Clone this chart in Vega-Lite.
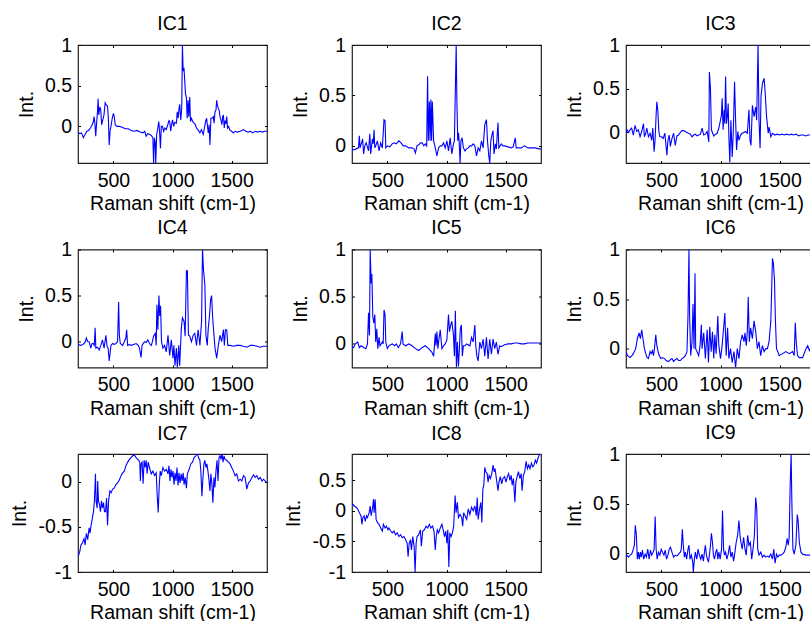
{
"$schema": "https://vega.github.io/schema/vega-lite/v6.json",
"background": "white",
"padding": {"left": 9, "top": 12, "right": 0, "bottom": 0},
"columns": 3,
"spacing": {"row": 86.5, "column": 85},
"bounds": "flush",
"datasets": {
"ic1": [{"x":200,"y":-0.07},{"x":215,"y":-0.09},{"x":230,"y":-0.08},{"x":245,"y":-0.14},{"x":260,"y":-0.1},{"x":275,"y":-0.06},{"x":290,"y":-0.05},{"x":305,"y":-0.02},{"x":320,"y":0.02},{"x":330,"y":0.06},{"x":336,"y":0.12},{"x":343,"y":0.04},{"x":350,"y":-0.12},{"x":358,"y":0.05},{"x":365,"y":0.18},{"x":370,"y":0.34},{"x":376,"y":0.14},{"x":385,"y":0.24},{"x":393,"y":0.2},{"x":400,"y":0.02},{"x":410,"y":0.08},{"x":420,"y":0.14},{"x":430,"y":0.29},{"x":440,"y":0.26},{"x":450,"y":0.25},{"x":457,"y":0.1},{"x":464,"y":-0.23},{"x":472,"y":-0.05},{"x":479,"y":0.0},{"x":490,"y":0.1},{"x":500,"y":0.16},{"x":507,"y":0.12},{"x":515,"y":0.02},{"x":530,"y":0.0},{"x":550,"y":0.0},{"x":575,"y":-0.01},{"x":600,"y":-0.03},{"x":625,"y":-0.03},{"x":650,"y":-0.05},{"x":675,"y":-0.06},{"x":700,"y":-0.05},{"x":725,"y":-0.07},{"x":750,"y":-0.08},{"x":765,"y":-0.06},{"x":777,"y":-0.12},{"x":790,"y":-0.09},{"x":810,"y":-0.1},{"x":825,"y":-0.12},{"x":834,"y":-0.14},{"x":840,"y":-0.46},{"x":847,"y":-0.14},{"x":854,"y":-0.2},{"x":858,"y":-0.46},{"x":866,"y":-0.1},{"x":876,"y":-0.02},{"x":884,"y":0.06},{"x":890,"y":-0.05},{"x":898,"y":-0.27},{"x":905,"y":0.0},{"x":915,"y":0.0},{"x":925,"y":-0.06},{"x":935,"y":-0.02},{"x":947,"y":-0.04},{"x":960,"y":0.02},{"x":970,"y":0.07},{"x":976,"y":0.06},{"x":985,"y":-0.06},{"x":992,"y":0.02},{"x":1000,"y":0.08},{"x":1010,"y":0.0},{"x":1020,"y":0.05},{"x":1033,"y":0.04},{"x":1040,"y":0.18},{"x":1048,"y":0.1},{"x":1055,"y":0.22},{"x":1061,"y":0.27},{"x":1070,"y":0.08},{"x":1078,"y":0.22},{"x":1084,"y":1.0},{"x":1090,"y":0.68},{"x":1097,"y":0.72},{"x":1104,"y":0.55},{"x":1110,"y":0.4},{"x":1118,"y":0.35},{"x":1124,"y":0.1},{"x":1132,"y":0.32},{"x":1138,"y":0.12},{"x":1146,"y":0.36},{"x":1152,"y":0.06},{"x":1160,"y":0.1},{"x":1175,"y":0.05},{"x":1190,"y":0.03},{"x":1203,"y":-0.02},{"x":1215,"y":-0.04},{"x":1232,"y":-0.08},{"x":1245,"y":-0.04},{"x":1260,"y":-0.1},{"x":1270,"y":-0.02},{"x":1280,"y":0.06},{"x":1289,"y":0.1},{"x":1296,"y":0.0},{"x":1303,"y":-0.08},{"x":1310,"y":0.02},{"x":1317,"y":-0.23},{"x":1325,"y":0.1},{"x":1335,"y":0.1},{"x":1345,"y":0.12},{"x":1352,"y":0.04},{"x":1360,"y":0.18},{"x":1368,"y":0.2},{"x":1374,"y":0.32},{"x":1380,"y":0.26},{"x":1388,"y":0.22},{"x":1395,"y":0.2},{"x":1402,"y":0.12},{"x":1410,"y":0.08},{"x":1418,"y":0.02},{"x":1425,"y":0.12},{"x":1431,"y":0.14},{"x":1438,"y":-0.02},{"x":1445,"y":0.07},{"x":1452,"y":0.03},{"x":1459,"y":0.12},{"x":1466,"y":-0.02},{"x":1475,"y":0.0},{"x":1487,"y":-0.05},{"x":1500,"y":-0.06},{"x":1516,"y":-0.08},{"x":1530,"y":-0.06},{"x":1550,"y":-0.07},{"x":1570,"y":-0.06},{"x":1590,"y":-0.05},{"x":1601,"y":-0.04},{"x":1620,"y":-0.06},{"x":1640,"y":-0.07},{"x":1660,"y":-0.06},{"x":1680,"y":-0.08},{"x":1700,"y":-0.06},{"x":1720,"y":-0.07},{"x":1740,"y":-0.06},{"x":1760,"y":-0.07},{"x":1780,"y":-0.06},{"x":1800,"y":-0.06}],
"ic2": [{"x":200,"y":-0.03},{"x":215,"y":-0.04},{"x":235,"y":-0.03},{"x":255,"y":-0.02},{"x":262,"y":0.1},{"x":268,"y":-0.02},{"x":278,"y":0.02},{"x":290,"y":0.07},{"x":298,"y":-0.08},{"x":308,"y":0.0},{"x":320,"y":0.03},{"x":340,"y":-0.05},{"x":351,"y":0.12},{"x":358,"y":-0.08},{"x":366,"y":0.0},{"x":373,"y":0.07},{"x":380,"y":0.02},{"x":387,"y":0.16},{"x":393,"y":-0.02},{"x":401,"y":0.0},{"x":415,"y":0.05},{"x":429,"y":-0.05},{"x":443,"y":0.03},{"x":457,"y":-0.02},{"x":471,"y":0.26},{"x":480,"y":0.25},{"x":486,"y":-0.02},{"x":500,"y":0.0},{"x":520,"y":-0.01},{"x":540,"y":0.02},{"x":555,"y":0.03},{"x":575,"y":0.02},{"x":597,"y":0.05},{"x":615,"y":0.03},{"x":635,"y":0.0},{"x":653,"y":0.0},{"x":680,"y":-0.02},{"x":709,"y":-0.02},{"x":725,"y":-0.03},{"x":737,"y":-0.07},{"x":750,"y":0.0},{"x":765,"y":0.01},{"x":780,"y":0.03},{"x":793,"y":0.03},{"x":808,"y":0.0},{"x":821,"y":0.02},{"x":832,"y":0.0},{"x":840,"y":0.69},{"x":846,"y":0.05},{"x":855,"y":0.44},{"x":861,"y":0.05},{"x":868,"y":0.46},{"x":874,"y":0.05},{"x":880,"y":0.44},{"x":891,"y":0.05},{"x":905,"y":-0.02},{"x":919,"y":-0.1},{"x":933,"y":-0.02},{"x":947,"y":0.0},{"x":961,"y":0.0},{"x":975,"y":0.03},{"x":989,"y":-0.02},{"x":1003,"y":0.05},{"x":1017,"y":-0.05},{"x":1031,"y":0.08},{"x":1045,"y":-0.08},{"x":1059,"y":0.02},{"x":1067,"y":0.05},{"x":1073,"y":0.44},{"x":1082,"y":1.0},{"x":1088,"y":0.44},{"x":1095,"y":0.05},{"x":1102,"y":0.13},{"x":1108,"y":0.02},{"x":1115,"y":-0.17},{"x":1122,"y":0.05},{"x":1132,"y":0.08},{"x":1143,"y":-0.02},{"x":1157,"y":-0.05},{"x":1170,"y":-0.03},{"x":1184,"y":-0.02},{"x":1198,"y":0.0},{"x":1212,"y":0.0},{"x":1226,"y":0.02},{"x":1240,"y":0.0},{"x":1254,"y":-0.1},{"x":1268,"y":-0.02},{"x":1282,"y":-0.05},{"x":1296,"y":0.05},{"x":1310,"y":-0.02},{"x":1324,"y":0.21},{"x":1338,"y":0.26},{"x":1347,"y":0.05},{"x":1358,"y":-0.1},{"x":1366,"y":-0.17},{"x":1375,"y":0.05},{"x":1385,"y":0.11},{"x":1394,"y":0.15},{"x":1402,"y":-0.08},{"x":1414,"y":0.02},{"x":1422,"y":-0.03},{"x":1436,"y":0.23},{"x":1443,"y":-0.02},{"x":1464,"y":0.02},{"x":1478,"y":0.0},{"x":1492,"y":0.0},{"x":1520,"y":-0.01},{"x":1548,"y":-0.02},{"x":1565,"y":-0.01},{"x":1582,"y":0.08},{"x":1590,"y":-0.02},{"x":1610,"y":-0.02},{"x":1632,"y":-0.02},{"x":1660,"y":0.0},{"x":1690,"y":-0.02},{"x":1716,"y":-0.02},{"x":1750,"y":-0.02},{"x":1780,"y":-0.03},{"x":1800,"y":-0.03}],
"ic3": [{"x":200,"y":-0.01},{"x":208,"y":0.03},{"x":222,"y":0.0},{"x":234,"y":0.03},{"x":248,"y":0.05},{"x":262,"y":-0.03},{"x":277,"y":0.08},{"x":291,"y":0.01},{"x":305,"y":0.03},{"x":319,"y":-0.05},{"x":333,"y":0.01},{"x":348,"y":0.1},{"x":356,"y":-0.05},{"x":367,"y":-0.01},{"x":376,"y":0.05},{"x":390,"y":-0.05},{"x":404,"y":-0.01},{"x":418,"y":-0.09},{"x":427,"y":0.05},{"x":438,"y":-0.22},{"x":446,"y":-0.09},{"x":455,"y":0.2},{"x":461,"y":0.35},{"x":469,"y":0.26},{"x":478,"y":0.01},{"x":487,"y":-0.05},{"x":501,"y":-0.05},{"x":515,"y":-0.07},{"x":529,"y":-0.01},{"x":546,"y":-0.26},{"x":555,"y":-0.09},{"x":566,"y":-0.03},{"x":575,"y":-0.16},{"x":589,"y":-0.07},{"x":603,"y":-0.01},{"x":617,"y":-0.15},{"x":631,"y":-0.04},{"x":645,"y":-0.03},{"x":660,"y":0.0},{"x":674,"y":0.02},{"x":688,"y":0.02},{"x":702,"y":0.01},{"x":716,"y":0.0},{"x":730,"y":-0.01},{"x":745,"y":-0.02},{"x":759,"y":-0.05},{"x":773,"y":-0.03},{"x":787,"y":-0.02},{"x":801,"y":-0.04},{"x":816,"y":-0.03},{"x":830,"y":-0.02},{"x":844,"y":0.05},{"x":858,"y":-0.03},{"x":872,"y":-0.02},{"x":887,"y":0.01},{"x":901,"y":-0.11},{"x":906,"y":0.69},{"x":915,"y":0.5},{"x":923,"y":0.03},{"x":943,"y":-0.04},{"x":958,"y":-0.02},{"x":972,"y":-0.01},{"x":986,"y":0.05},{"x":1000,"y":0.14},{"x":1008,"y":0.2},{"x":1014,"y":0.39},{"x":1022,"y":0.03},{"x":1031,"y":0.26},{"x":1037,"y":0.1},{"x":1043,"y":0.64},{"x":1051,"y":0.1},{"x":1059,"y":0.2},{"x":1065,"y":0.33},{"x":1071,"y":-0.05},{"x":1079,"y":-0.34},{"x":1088,"y":0.14},{"x":1099,"y":-0.28},{"x":1108,"y":-0.01},{"x":1119,"y":0.58},{"x":1127,"y":0.18},{"x":1136,"y":-0.2},{"x":1147,"y":0.01},{"x":1156,"y":-0.09},{"x":1170,"y":-0.03},{"x":1184,"y":-0.01},{"x":1198,"y":0.0},{"x":1213,"y":0.01},{"x":1227,"y":-0.01},{"x":1241,"y":0.26},{"x":1250,"y":-0.09},{"x":1258,"y":-0.15},{"x":1270,"y":0.31},{"x":1284,"y":0.18},{"x":1298,"y":0.29},{"x":1306,"y":0.14},{"x":1318,"y":1.0},{"x":1326,"y":0.14},{"x":1335,"y":-0.18},{"x":1343,"y":0.41},{"x":1355,"y":0.56},{"x":1369,"y":0.62},{"x":1377,"y":0.48},{"x":1390,"y":0.18},{"x":1404,"y":-0.01},{"x":1412,"y":0.06},{"x":1426,"y":-0.05},{"x":1440,"y":-0.01},{"x":1460,"y":-0.03},{"x":1480,"y":-0.02},{"x":1500,"y":-0.03},{"x":1520,"y":-0.02},{"x":1540,"y":-0.03},{"x":1560,"y":-0.02},{"x":1580,"y":-0.03},{"x":1600,"y":-0.02},{"x":1620,"y":-0.03},{"x":1640,"y":-0.02},{"x":1660,"y":-0.04},{"x":1680,"y":-0.03},{"x":1700,"y":-0.03},{"x":1720,"y":-0.04},{"x":1740,"y":-0.03},{"x":1760,"y":-0.03},{"x":1780,"y":-0.04},{"x":1800,"y":-0.04}],
"ic4": [{"x":200,"y":-0.03},{"x":223,"y":-0.04},{"x":240,"y":-0.03},{"x":251,"y":-0.02},{"x":262,"y":0.0},{"x":271,"y":0.04},{"x":282,"y":0.0},{"x":294,"y":0.0},{"x":308,"y":-0.07},{"x":318,"y":-0.02},{"x":328,"y":-0.02},{"x":338,"y":-0.04},{"x":345,"y":0.15},{"x":351,"y":-0.07},{"x":365,"y":-0.06},{"x":379,"y":-0.09},{"x":393,"y":-0.04},{"x":407,"y":0.02},{"x":421,"y":-0.07},{"x":436,"y":0.07},{"x":446,"y":-0.05},{"x":455,"y":-0.07},{"x":464,"y":-0.21},{"x":479,"y":-0.04},{"x":493,"y":-0.02},{"x":507,"y":-0.03},{"x":521,"y":-0.02},{"x":535,"y":0.0},{"x":544,"y":0.43},{"x":550,"y":0.07},{"x":558,"y":-0.02},{"x":578,"y":-0.04},{"x":592,"y":0.0},{"x":605,"y":0.04},{"x":612,"y":0.13},{"x":620,"y":-0.04},{"x":635,"y":-0.03},{"x":649,"y":-0.04},{"x":670,"y":-0.03},{"x":692,"y":-0.02},{"x":710,"y":-0.04},{"x":720,"y":-0.07},{"x":734,"y":-0.17},{"x":742,"y":-0.04},{"x":763,"y":0.0},{"x":777,"y":-0.01},{"x":791,"y":0.02},{"x":805,"y":-0.02},{"x":820,"y":-0.04},{"x":830,"y":0.0},{"x":839,"y":0.06},{"x":854,"y":0.09},{"x":862,"y":-0.04},{"x":868,"y":0.4},{"x":876,"y":0.13},{"x":885,"y":0.5},{"x":892,"y":0.28},{"x":899,"y":0.39},{"x":907,"y":0.0},{"x":919,"y":-0.07},{"x":933,"y":-0.04},{"x":947,"y":-0.11},{"x":962,"y":0.07},{"x":976,"y":-0.15},{"x":990,"y":0.02},{"x":1004,"y":-0.18},{"x":1012,"y":-0.04},{"x":1021,"y":-0.26},{"x":1033,"y":-0.07},{"x":1041,"y":-0.28},{"x":1053,"y":-0.04},{"x":1061,"y":-0.26},{"x":1075,"y":0.15},{"x":1084,"y":0.26},{"x":1098,"y":0.22},{"x":1107,"y":0.06},{"x":1118,"y":0.77},{"x":1126,"y":0.77},{"x":1135,"y":0.07},{"x":1146,"y":0.06},{"x":1161,"y":0.0},{"x":1175,"y":0.07},{"x":1189,"y":0.09},{"x":1203,"y":-0.04},{"x":1217,"y":0.13},{"x":1232,"y":-0.04},{"x":1246,"y":0.22},{"x":1254,"y":1.0},{"x":1263,"y":0.77},{"x":1274,"y":0.62},{"x":1283,"y":0.07},{"x":1294,"y":-0.04},{"x":1303,"y":0.15},{"x":1312,"y":0.26},{"x":1323,"y":0.46},{"x":1331,"y":0.5},{"x":1340,"y":0.26},{"x":1351,"y":0.07},{"x":1360,"y":-0.07},{"x":1374,"y":-0.18},{"x":1388,"y":-0.04},{"x":1402,"y":0.07},{"x":1416,"y":0.0},{"x":1431,"y":0.13},{"x":1439,"y":-0.04},{"x":1448,"y":0.13},{"x":1459,"y":0.13},{"x":1468,"y":-0.04},{"x":1487,"y":-0.04},{"x":1516,"y":-0.05},{"x":1545,"y":-0.04},{"x":1573,"y":-0.04},{"x":1600,"y":-0.05},{"x":1630,"y":-0.06},{"x":1660,"y":-0.04},{"x":1686,"y":-0.04},{"x":1715,"y":-0.05},{"x":1743,"y":-0.06},{"x":1770,"y":-0.05},{"x":1800,"y":-0.05}],
"ic5": [{"x":200,"y":-0.03},{"x":214,"y":-0.04},{"x":228,"y":0.0},{"x":248,"y":0.02},{"x":262,"y":-0.04},{"x":276,"y":-0.02},{"x":290,"y":-0.03},{"x":303,"y":-0.04},{"x":317,"y":-0.05},{"x":331,"y":0.0},{"x":340,"y":0.33},{"x":348,"y":0.09},{"x":354,"y":1.0},{"x":362,"y":0.64},{"x":368,"y":0.74},{"x":376,"y":0.29},{"x":385,"y":0.22},{"x":393,"y":0.31},{"x":401,"y":0.02},{"x":410,"y":0.16},{"x":418,"y":-0.05},{"x":429,"y":0.07},{"x":437,"y":-0.02},{"x":457,"y":0.02},{"x":464,"y":0.0},{"x":471,"y":0.36},{"x":480,"y":0.31},{"x":486,"y":0.02},{"x":499,"y":-0.05},{"x":513,"y":-0.02},{"x":527,"y":-0.01},{"x":541,"y":0.0},{"x":561,"y":-0.02},{"x":575,"y":0.0},{"x":592,"y":-0.04},{"x":611,"y":0.0},{"x":625,"y":0.13},{"x":632,"y":0.0},{"x":653,"y":-0.02},{"x":681,"y":0.0},{"x":709,"y":-0.02},{"x":737,"y":-0.05},{"x":765,"y":-0.07},{"x":793,"y":-0.04},{"x":821,"y":-0.02},{"x":849,"y":-0.05},{"x":877,"y":-0.09},{"x":891,"y":-0.13},{"x":905,"y":0.11},{"x":911,"y":-0.02},{"x":919,"y":0.13},{"x":927,"y":-0.05},{"x":933,"y":0.02},{"x":947,"y":0.15},{"x":961,"y":-0.05},{"x":975,"y":-0.02},{"x":989,"y":0.0},{"x":1003,"y":0.04},{"x":1017,"y":0.31},{"x":1025,"y":0.13},{"x":1036,"y":0.2},{"x":1045,"y":0.24},{"x":1059,"y":0.09},{"x":1067,"y":-0.13},{"x":1075,"y":0.35},{"x":1084,"y":-0.25},{"x":1092,"y":0.02},{"x":1101,"y":-0.24},{"x":1109,"y":-0.05},{"x":1117,"y":0.16},{"x":1126,"y":0.2},{"x":1134,"y":-0.13},{"x":1143,"y":-0.02},{"x":1157,"y":-0.02},{"x":1170,"y":0.0},{"x":1198,"y":-0.02},{"x":1212,"y":0.07},{"x":1226,"y":0.02},{"x":1240,"y":0.2},{"x":1248,"y":-0.02},{"x":1257,"y":-0.13},{"x":1268,"y":-0.18},{"x":1282,"y":0.02},{"x":1296,"y":-0.05},{"x":1310,"y":0.05},{"x":1324,"y":-0.13},{"x":1338,"y":0.07},{"x":1352,"y":-0.16},{"x":1366,"y":0.05},{"x":1380,"y":-0.11},{"x":1394,"y":0.05},{"x":1408,"y":-0.05},{"x":1422,"y":0.02},{"x":1436,"y":-0.11},{"x":1450,"y":-0.02},{"x":1464,"y":-0.03},{"x":1492,"y":-0.01},{"x":1520,"y":0.0},{"x":1548,"y":0.0},{"x":1576,"y":0.01},{"x":1604,"y":0.01},{"x":1632,"y":0.0},{"x":1660,"y":0.0},{"x":1688,"y":0.01},{"x":1716,"y":0.01},{"x":1750,"y":0.01},{"x":1780,"y":0.01},{"x":1800,"y":0.01}],
"ic6": [{"x":200,"y":-0.03},{"x":214,"y":-0.07},{"x":234,"y":-0.09},{"x":250,"y":-0.07},{"x":262,"y":-0.05},{"x":282,"y":0.0},{"x":296,"y":0.1},{"x":311,"y":0.16},{"x":322,"y":0.1},{"x":333,"y":0.19},{"x":345,"y":0.09},{"x":356,"y":0.0},{"x":367,"y":-0.05},{"x":379,"y":-0.09},{"x":390,"y":-0.1},{"x":404,"y":-0.03},{"x":413,"y":-0.05},{"x":424,"y":-0.02},{"x":433,"y":-0.07},{"x":441,"y":0.0},{"x":452,"y":0.14},{"x":461,"y":0.03},{"x":470,"y":-0.02},{"x":481,"y":-0.07},{"x":495,"y":-0.1},{"x":509,"y":-0.09},{"x":526,"y":-0.1},{"x":540,"y":-0.12},{"x":560,"y":-0.13},{"x":575,"y":-0.11},{"x":589,"y":-0.1},{"x":603,"y":-0.13},{"x":617,"y":-0.11},{"x":631,"y":-0.1},{"x":645,"y":-0.12},{"x":660,"y":-0.12},{"x":674,"y":-0.1},{"x":688,"y":-0.09},{"x":702,"y":-0.07},{"x":716,"y":-0.03},{"x":725,"y":0.34},{"x":733,"y":1.0},{"x":739,"y":0.31},{"x":748,"y":-0.07},{"x":759,"y":0.07},{"x":767,"y":0.45},{"x":776,"y":0.0},{"x":784,"y":0.76},{"x":790,"y":0.0},{"x":801,"y":-0.03},{"x":815,"y":-0.07},{"x":827,"y":0.03},{"x":838,"y":0.24},{"x":844,"y":0.0},{"x":858,"y":0.16},{"x":872,"y":-0.1},{"x":887,"y":0.19},{"x":898,"y":-0.14},{"x":909,"y":0.22},{"x":921,"y":-0.03},{"x":932,"y":0.17},{"x":943,"y":-0.1},{"x":952,"y":0.14},{"x":963,"y":-0.05},{"x":977,"y":0.33},{"x":986,"y":0.03},{"x":1000,"y":-0.1},{"x":1011,"y":0.0},{"x":1023,"y":0.16},{"x":1037,"y":0.36},{"x":1048,"y":-0.07},{"x":1060,"y":0.21},{"x":1071,"y":-0.1},{"x":1085,"y":0.0},{"x":1099,"y":-0.14},{"x":1114,"y":-0.03},{"x":1128,"y":-0.19},{"x":1142,"y":0.0},{"x":1156,"y":-0.1},{"x":1170,"y":0.07},{"x":1184,"y":0.14},{"x":1199,"y":0.07},{"x":1207,"y":0.16},{"x":1218,"y":0.03},{"x":1227,"y":0.17},{"x":1235,"y":0.52},{"x":1244,"y":0.07},{"x":1255,"y":0.21},{"x":1270,"y":0.1},{"x":1284,"y":0.28},{"x":1298,"y":0.17},{"x":1312,"y":0.0},{"x":1326,"y":0.07},{"x":1340,"y":-0.07},{"x":1355,"y":0.03},{"x":1369,"y":-0.03},{"x":1383,"y":0.0},{"x":1397,"y":0.0},{"x":1411,"y":0.07},{"x":1426,"y":0.28},{"x":1440,"y":0.91},{"x":1448,"y":0.86},{"x":1457,"y":0.69},{"x":1465,"y":0.28},{"x":1474,"y":0.0},{"x":1485,"y":-0.03},{"x":1497,"y":-0.07},{"x":1525,"y":-0.05},{"x":1553,"y":-0.03},{"x":1582,"y":-0.05},{"x":1610,"y":-0.03},{"x":1624,"y":-0.07},{"x":1633,"y":0.26},{"x":1641,"y":0.07},{"x":1652,"y":-0.07},{"x":1667,"y":-0.09},{"x":1695,"y":-0.09},{"x":1724,"y":0.0},{"x":1738,"y":0.03},{"x":1752,"y":-0.02},{"x":1770,"y":0.02},{"x":1785,"y":-0.03},{"x":1800,"y":-0.02}],
"ic7": [{"x":200,"y":-0.83},{"x":214,"y":-0.78},{"x":225,"y":-0.7},{"x":237,"y":-0.68},{"x":251,"y":-0.63},{"x":260,"y":-0.7},{"x":271,"y":-0.57},{"x":282,"y":-0.64},{"x":294,"y":-0.51},{"x":302,"y":-0.57},{"x":311,"y":-0.48},{"x":322,"y":-0.4},{"x":331,"y":-0.33},{"x":339,"y":-0.21},{"x":348,"y":0.09},{"x":353,"y":-0.21},{"x":362,"y":-0.29},{"x":367,"y":0.01},{"x":373,"y":-0.21},{"x":382,"y":-0.25},{"x":390,"y":-0.33},{"x":399,"y":-0.21},{"x":407,"y":-0.29},{"x":416,"y":-0.23},{"x":424,"y":-0.33},{"x":433,"y":-0.33},{"x":442,"y":-0.18},{"x":450,"y":-0.48},{"x":459,"y":-0.21},{"x":470,"y":-0.1},{"x":481,"y":-0.12},{"x":493,"y":-0.08},{"x":507,"y":-0.07},{"x":521,"y":-0.03},{"x":535,"y":-0.01},{"x":550,"y":0.02},{"x":564,"y":0.07},{"x":578,"y":0.1},{"x":592,"y":0.12},{"x":606,"y":0.18},{"x":621,"y":0.22},{"x":635,"y":0.25},{"x":649,"y":0.27},{"x":663,"y":0.29},{"x":677,"y":0.3},{"x":692,"y":0.27},{"x":706,"y":0.25},{"x":714,"y":0.24},{"x":723,"y":0.22},{"x":728,"y":0.01},{"x":734,"y":0.2},{"x":743,"y":0.22},{"x":751,"y":-0.02},{"x":760,"y":0.24},{"x":768,"y":0.16},{"x":777,"y":0.24},{"x":785,"y":0.09},{"x":794,"y":0.22},{"x":805,"y":0.16},{"x":820,"y":0.09},{"x":834,"y":0.12},{"x":848,"y":0.07},{"x":862,"y":0.1},{"x":870,"y":-0.14},{"x":879,"y":-0.34},{"x":888,"y":-0.03},{"x":896,"y":0.12},{"x":905,"y":0.07},{"x":919,"y":0.16},{"x":933,"y":0.12},{"x":947,"y":0.14},{"x":962,"y":0.09},{"x":970,"y":0.18},{"x":979,"y":0.01},{"x":987,"y":0.14},{"x":996,"y":0.05},{"x":1004,"y":0.12},{"x":1013,"y":-0.03},{"x":1021,"y":0.1},{"x":1030,"y":0.01},{"x":1038,"y":0.16},{"x":1047,"y":-0.04},{"x":1055,"y":0.1},{"x":1064,"y":-0.01},{"x":1073,"y":0.09},{"x":1081,"y":0.01},{"x":1090,"y":0.1},{"x":1098,"y":-0.03},{"x":1107,"y":0.05},{"x":1118,"y":-0.07},{"x":1126,"y":0.09},{"x":1141,"y":0.14},{"x":1155,"y":0.2},{"x":1169,"y":0.22},{"x":1183,"y":0.27},{"x":1198,"y":0.29},{"x":1209,"y":0.32},{"x":1220,"y":0.27},{"x":1232,"y":0.24},{"x":1240,"y":0.12},{"x":1249,"y":-0.16},{"x":1257,"y":0.03},{"x":1266,"y":0.2},{"x":1274,"y":0.24},{"x":1283,"y":0.16},{"x":1291,"y":0.2},{"x":1300,"y":0.12},{"x":1308,"y":0.03},{"x":1317,"y":-0.1},{"x":1325,"y":0.09},{"x":1334,"y":-0.03},{"x":1342,"y":-0.23},{"x":1351,"y":0.05},{"x":1359,"y":-0.06},{"x":1368,"y":0.12},{"x":1377,"y":0.24},{"x":1385,"y":0.01},{"x":1394,"y":0.27},{"x":1402,"y":0.29},{"x":1411,"y":0.25},{"x":1419,"y":0.32},{"x":1428,"y":0.22},{"x":1436,"y":0.29},{"x":1445,"y":0.25},{"x":1459,"y":0.24},{"x":1473,"y":0.22},{"x":1487,"y":0.2},{"x":1501,"y":0.16},{"x":1516,"y":0.12},{"x":1530,"y":0.07},{"x":1544,"y":0.09},{"x":1558,"y":0.01},{"x":1573,"y":0.03},{"x":1587,"y":0.01},{"x":1601,"y":0.07},{"x":1615,"y":0.05},{"x":1629,"y":-0.08},{"x":1643,"y":-0.01},{"x":1658,"y":0.01},{"x":1672,"y":0.05},{"x":1686,"y":0.08},{"x":1700,"y":0.05},{"x":1714,"y":0.07},{"x":1728,"y":0.03},{"x":1743,"y":0.05},{"x":1757,"y":0.01},{"x":1771,"y":0.03},{"x":1785,"y":0.01},{"x":1800,"y":-0.01}],
"ic8": [{"x":200,"y":0.1},{"x":206,"y":0.11},{"x":220,"y":0.08},{"x":234,"y":0.06},{"x":248,"y":0.03},{"x":262,"y":-0.03},{"x":276,"y":-0.08},{"x":284,"y":-0.22},{"x":292,"y":-0.11},{"x":303,"y":-0.08},{"x":312,"y":-0.17},{"x":323,"y":-0.08},{"x":331,"y":-0.11},{"x":345,"y":-0.03},{"x":354,"y":0.08},{"x":362,"y":-0.08},{"x":373,"y":0.03},{"x":382,"y":0.19},{"x":387,"y":-0.03},{"x":396,"y":0.19},{"x":404,"y":-0.14},{"x":415,"y":-0.19},{"x":429,"y":-0.22},{"x":443,"y":-0.28},{"x":457,"y":-0.33},{"x":466,"y":-0.22},{"x":480,"y":-0.28},{"x":491,"y":-0.25},{"x":505,"y":-0.31},{"x":513,"y":-0.28},{"x":527,"y":-0.33},{"x":541,"y":-0.36},{"x":555,"y":-0.33},{"x":569,"y":-0.39},{"x":583,"y":-0.36},{"x":597,"y":-0.42},{"x":611,"y":-0.39},{"x":625,"y":-0.44},{"x":639,"y":-0.42},{"x":653,"y":-0.47},{"x":667,"y":-0.53},{"x":675,"y":-0.75},{"x":684,"y":-0.53},{"x":695,"y":-0.47},{"x":703,"y":-0.64},{"x":715,"y":-0.42},{"x":726,"y":-0.58},{"x":734,"y":-1.0},{"x":743,"y":-0.53},{"x":751,"y":-0.42},{"x":765,"y":-0.39},{"x":779,"y":-0.31},{"x":787,"y":-0.58},{"x":799,"y":-0.33},{"x":813,"y":-0.31},{"x":827,"y":-0.25},{"x":841,"y":-0.28},{"x":855,"y":-0.22},{"x":868,"y":-0.28},{"x":882,"y":-0.25},{"x":894,"y":-0.33},{"x":905,"y":-0.64},{"x":913,"y":-0.42},{"x":922,"y":-0.31},{"x":933,"y":-0.36},{"x":947,"y":-0.28},{"x":961,"y":-0.22},{"x":972,"y":-0.31},{"x":983,"y":-0.42},{"x":994,"y":-0.33},{"x":1003,"y":-0.53},{"x":1011,"y":-0.31},{"x":1020,"y":-0.92},{"x":1028,"y":-0.36},{"x":1039,"y":-0.42},{"x":1050,"y":-0.36},{"x":1061,"y":-0.25},{"x":1073,"y":0.25},{"x":1081,"y":-0.03},{"x":1092,"y":0.14},{"x":1101,"y":-0.11},{"x":1115,"y":-0.06},{"x":1129,"y":-0.11},{"x":1137,"y":-0.25},{"x":1145,"y":-0.03},{"x":1157,"y":-0.08},{"x":1171,"y":-0.14},{"x":1184,"y":0.03},{"x":1198,"y":-0.06},{"x":1212,"y":0.06},{"x":1226,"y":0.0},{"x":1240,"y":0.08},{"x":1252,"y":-0.08},{"x":1260,"y":0.22},{"x":1268,"y":-0.14},{"x":1280,"y":0.03},{"x":1291,"y":0.14},{"x":1299,"y":-0.19},{"x":1308,"y":0.36},{"x":1316,"y":0.42},{"x":1324,"y":0.71},{"x":1333,"y":0.64},{"x":1344,"y":0.61},{"x":1352,"y":0.47},{"x":1361,"y":0.58},{"x":1372,"y":0.53},{"x":1383,"y":0.61},{"x":1394,"y":0.75},{"x":1403,"y":0.64},{"x":1411,"y":0.69},{"x":1422,"y":0.53},{"x":1436,"y":0.33},{"x":1444,"y":0.47},{"x":1456,"y":0.56},{"x":1467,"y":0.44},{"x":1478,"y":0.53},{"x":1492,"y":0.56},{"x":1503,"y":0.47},{"x":1515,"y":0.56},{"x":1526,"y":0.61},{"x":1537,"y":0.5},{"x":1548,"y":0.58},{"x":1556,"y":0.42},{"x":1567,"y":0.53},{"x":1579,"y":0.14},{"x":1587,"y":0.47},{"x":1598,"y":0.56},{"x":1609,"y":0.64},{"x":1621,"y":0.53},{"x":1632,"y":0.61},{"x":1640,"y":0.33},{"x":1651,"y":0.58},{"x":1662,"y":0.64},{"x":1674,"y":0.81},{"x":1685,"y":0.69},{"x":1696,"y":0.75},{"x":1707,"y":0.69},{"x":1719,"y":0.78},{"x":1730,"y":0.72},{"x":1741,"y":0.75},{"x":1752,"y":0.83},{"x":1763,"y":0.78},{"x":1774,"y":0.86},{"x":1786,"y":0.92},{"x":1800,"y":0.93}],
"ic9": [{"x":200,"y":-0.03},{"x":206,"y":-0.02},{"x":220,"y":-0.04},{"x":234,"y":-0.02},{"x":248,"y":-0.01},{"x":262,"y":0.04},{"x":271,"y":0.08},{"x":279,"y":0.28},{"x":288,"y":0.18},{"x":296,"y":-0.06},{"x":305,"y":0.01},{"x":313,"y":-0.06},{"x":322,"y":0.01},{"x":330,"y":-0.04},{"x":339,"y":0.03},{"x":350,"y":-0.06},{"x":362,"y":-0.01},{"x":373,"y":-0.04},{"x":384,"y":0.04},{"x":396,"y":-0.06},{"x":407,"y":0.03},{"x":418,"y":-0.02},{"x":430,"y":0.01},{"x":438,"y":0.04},{"x":447,"y":0.37},{"x":455,"y":0.04},{"x":464,"y":-0.06},{"x":475,"y":0.01},{"x":487,"y":-0.02},{"x":498,"y":0.04},{"x":509,"y":0.01},{"x":521,"y":-0.02},{"x":532,"y":0.03},{"x":543,"y":-0.06},{"x":555,"y":-0.02},{"x":566,"y":0.04},{"x":577,"y":0.06},{"x":589,"y":0.01},{"x":603,"y":-0.04},{"x":617,"y":-0.02},{"x":631,"y":-0.03},{"x":645,"y":-0.01},{"x":660,"y":0.01},{"x":668,"y":0.04},{"x":677,"y":0.24},{"x":685,"y":0.08},{"x":694,"y":-0.04},{"x":702,"y":0.01},{"x":713,"y":-0.06},{"x":725,"y":0.04},{"x":733,"y":0.08},{"x":742,"y":-0.06},{"x":753,"y":-0.02},{"x":765,"y":-0.09},{"x":770,"y":-0.19},{"x":779,"y":-0.06},{"x":787,"y":0.01},{"x":799,"y":-0.06},{"x":810,"y":0.04},{"x":821,"y":-0.02},{"x":833,"y":-0.06},{"x":844,"y":-0.01},{"x":855,"y":-0.08},{"x":864,"y":0.01},{"x":872,"y":0.08},{"x":881,"y":-0.02},{"x":889,"y":-0.06},{"x":898,"y":-0.09},{"x":906,"y":-0.02},{"x":915,"y":0.08},{"x":923,"y":0.2},{"x":932,"y":0.11},{"x":940,"y":-0.02},{"x":949,"y":-0.06},{"x":960,"y":0.01},{"x":969,"y":0.04},{"x":977,"y":-0.06},{"x":986,"y":0.01},{"x":997,"y":-0.06},{"x":1009,"y":0.04},{"x":1017,"y":0.43},{"x":1026,"y":0.04},{"x":1034,"y":-0.02},{"x":1043,"y":0.01},{"x":1054,"y":-0.06},{"x":1065,"y":-0.01},{"x":1077,"y":0.08},{"x":1088,"y":-0.04},{"x":1099,"y":0.01},{"x":1111,"y":-0.08},{"x":1122,"y":0.01},{"x":1133,"y":0.11},{"x":1145,"y":0.18},{"x":1156,"y":0.33},{"x":1165,"y":0.18},{"x":1173,"y":0.11},{"x":1184,"y":0.04},{"x":1196,"y":0.16},{"x":1207,"y":0.04},{"x":1218,"y":-0.02},{"x":1230,"y":0.18},{"x":1241,"y":0.08},{"x":1253,"y":0.11},{"x":1264,"y":-0.06},{"x":1275,"y":0.04},{"x":1287,"y":0.18},{"x":1298,"y":0.56},{"x":1307,"y":0.45},{"x":1315,"y":0.04},{"x":1326,"y":-0.02},{"x":1341,"y":0.01},{"x":1355,"y":-0.04},{"x":1369,"y":-0.02},{"x":1383,"y":-0.04},{"x":1397,"y":-0.03},{"x":1411,"y":-0.04},{"x":1426,"y":-0.01},{"x":1440,"y":-0.06},{"x":1451,"y":0.04},{"x":1462,"y":-0.1},{"x":1474,"y":-0.01},{"x":1485,"y":-0.04},{"x":1497,"y":-0.02},{"x":1511,"y":-0.02},{"x":1525,"y":-0.01},{"x":1539,"y":0.01},{"x":1553,"y":0.06},{"x":1564,"y":0.15},{"x":1573,"y":0.08},{"x":1581,"y":0.15},{"x":1590,"y":0.69},{"x":1598,"y":1.0},{"x":1604,"y":0.52},{"x":1613,"y":0.04},{"x":1624,"y":-0.01},{"x":1638,"y":0.08},{"x":1650,"y":0.39},{"x":1658,"y":0.32},{"x":1667,"y":0.11},{"x":1681,"y":0.01},{"x":1695,"y":-0.01},{"x":1724,"y":-0.02},{"x":1752,"y":-0.02},{"x":1770,"y":-0.01},{"x":1785,"y":-0.02},{"x":1800,"y":-0.02}]
},
"concat": [
{"title":{"text":"IC1"},"data":{"name":"ic1"},"width":189,"height":118,"resolve":{"axis":{"x":"independent","y":"independent"}},"layer":[
 {"mark":{"type":"line","color":"#0000ff","strokeWidth":1.1,"clip":true},"encoding":{"x":{"field":"x","type":"quantitative","scale":{"domain":[200,1800],"nice":false,"zero":false},"axis":{"values":[500,1000,1500],"title":"Raman shift (cm-1)"}},"y":{"field":"y","type":"quantitative","scale":{"domain":[-0.45,1],"nice":false,"zero":false},"axis":{"values":[0,0.5,1],"title":"Int."}}}},
 {"mark":{"type":"line","opacity":0},"encoding":{"x":{"field":"x","type":"quantitative","axis":{"orient":"top","values":[500,1000,1500],"labels":false,"labelPadding":0,"title":null}},"y":{"field":"y","type":"quantitative","axis":{"orient":"right","values":[0,0.5,1],"labels":false,"labelPadding":0,"title":null}}}}]},
{"title":{"text":"IC2"},"data":{"name":"ic2"},"width":189,"height":118,"resolve":{"axis":{"x":"independent","y":"independent"}},"layer":[
 {"mark":{"type":"line","color":"#0000ff","strokeWidth":1.1,"clip":true},"encoding":{"x":{"field":"x","type":"quantitative","scale":{"domain":[200,1800],"nice":false,"zero":false},"axis":{"values":[500,1000,1500],"title":"Raman shift (cm-1)"}},"y":{"field":"y","type":"quantitative","scale":{"domain":[-0.17,1],"nice":false,"zero":false},"axis":{"values":[0,0.5,1],"title":"Int."}}}},
 {"mark":{"type":"line","opacity":0},"encoding":{"x":{"field":"x","type":"quantitative","axis":{"orient":"top","values":[500,1000,1500],"labels":false,"labelPadding":0,"title":null}},"y":{"field":"y","type":"quantitative","axis":{"orient":"right","values":[0,0.5,1],"labels":false,"labelPadding":0,"title":null}}}}]},
{"title":{"text":"IC3"},"data":{"name":"ic3"},"width":189,"height":118,"resolve":{"axis":{"x":"independent","y":"independent"}},"layer":[
 {"mark":{"type":"line","color":"#0000ff","strokeWidth":1.1,"clip":true},"encoding":{"x":{"field":"x","type":"quantitative","scale":{"domain":[200,1800],"nice":false,"zero":false},"axis":{"values":[500,1000,1500],"title":"Raman shift (cm-1)"}},"y":{"field":"y","type":"quantitative","scale":{"domain":[-0.35,1],"nice":false,"zero":false},"axis":{"values":[0,0.5,1],"title":"Int."}}}},
 {"mark":{"type":"line","opacity":0},"encoding":{"x":{"field":"x","type":"quantitative","axis":{"orient":"top","values":[500,1000,1500],"labels":false,"labelPadding":0,"title":null}},"y":{"field":"y","type":"quantitative","axis":{"orient":"right","values":[0,0.5,1],"labels":false,"labelPadding":0,"title":null}}}}]},
{"title":{"text":"IC4"},"data":{"name":"ic4"},"width":189,"height":118,"resolve":{"axis":{"x":"independent","y":"independent"}},"layer":[
 {"mark":{"type":"line","color":"#0000ff","strokeWidth":1.1,"clip":true},"encoding":{"x":{"field":"x","type":"quantitative","scale":{"domain":[200,1800],"nice":false,"zero":false},"axis":{"values":[500,1000,1500],"title":"Raman shift (cm-1)"}},"y":{"field":"y","type":"quantitative","scale":{"domain":[-0.28,1],"nice":false,"zero":false},"axis":{"values":[0,0.5,1],"title":"Int."}}}},
 {"mark":{"type":"line","opacity":0},"encoding":{"x":{"field":"x","type":"quantitative","axis":{"orient":"top","values":[500,1000,1500],"labels":false,"labelPadding":0,"title":null}},"y":{"field":"y","type":"quantitative","axis":{"orient":"right","values":[0,0.5,1],"labels":false,"labelPadding":0,"title":null}}}}]},
{"title":{"text":"IC5"},"data":{"name":"ic5"},"width":189,"height":118,"resolve":{"axis":{"x":"independent","y":"independent"}},"layer":[
 {"mark":{"type":"line","color":"#0000ff","strokeWidth":1.1,"clip":true},"encoding":{"x":{"field":"x","type":"quantitative","scale":{"domain":[200,1800],"nice":false,"zero":false},"axis":{"values":[500,1000,1500],"title":"Raman shift (cm-1)"}},"y":{"field":"y","type":"quantitative","scale":{"domain":[-0.25,1],"nice":false,"zero":false},"axis":{"values":[0,0.5,1],"title":"Int."}}}},
 {"mark":{"type":"line","opacity":0},"encoding":{"x":{"field":"x","type":"quantitative","axis":{"orient":"top","values":[500,1000,1500],"labels":false,"labelPadding":0,"title":null}},"y":{"field":"y","type":"quantitative","axis":{"orient":"right","values":[0,0.5,1],"labels":false,"labelPadding":0,"title":null}}}}]},
{"title":{"text":"IC6"},"data":{"name":"ic6"},"width":189,"height":118,"resolve":{"axis":{"x":"independent","y":"independent"}},"layer":[
 {"mark":{"type":"line","color":"#0000ff","strokeWidth":1.1,"clip":true},"encoding":{"x":{"field":"x","type":"quantitative","scale":{"domain":[200,1800],"nice":false,"zero":false},"axis":{"values":[500,1000,1500],"title":"Raman shift (cm-1)"}},"y":{"field":"y","type":"quantitative","scale":{"domain":[-0.19,1],"nice":false,"zero":false},"axis":{"values":[0,0.5,1],"title":"Int."}}}},
 {"mark":{"type":"line","opacity":0},"encoding":{"x":{"field":"x","type":"quantitative","axis":{"orient":"top","values":[500,1000,1500],"labels":false,"labelPadding":0,"title":null}},"y":{"field":"y","type":"quantitative","axis":{"orient":"right","values":[0,0.5,1],"labels":false,"labelPadding":0,"title":null}}}}]},
{"title":{"text":"IC7","offset":9},"data":{"name":"ic7"},"width":189,"height":118,"resolve":{"axis":{"x":"independent","y":"independent"}},"layer":[
 {"mark":{"type":"line","color":"#0000ff","strokeWidth":1.1,"clip":true},"encoding":{"x":{"field":"x","type":"quantitative","scale":{"domain":[200,1800],"nice":false,"zero":false},"axis":{"values":[500,1000,1500],"title":"Raman shift (cm-1)"}},"y":{"field":"y","type":"quantitative","scale":{"domain":[-1,0.31],"nice":false,"zero":false},"axis":{"values":[-1,-0.5,0],"title":"Int."}}}},
 {"mark":{"type":"line","opacity":0},"encoding":{"x":{"field":"x","type":"quantitative","axis":{"orient":"top","values":[500,1000,1500],"labels":false,"labelPadding":0,"title":null}},"y":{"field":"y","type":"quantitative","axis":{"orient":"right","values":[-1,-0.5,0],"labels":false,"labelPadding":0,"title":null}}}}]},
{"title":{"text":"IC8","offset":9},"data":{"name":"ic8"},"width":189,"height":118,"resolve":{"axis":{"x":"independent","y":"independent"}},"layer":[
 {"mark":{"type":"line","color":"#0000ff","strokeWidth":1.1,"clip":true},"encoding":{"x":{"field":"x","type":"quantitative","scale":{"domain":[200,1800],"nice":false,"zero":false},"axis":{"values":[500,1000,1500],"title":"Raman shift (cm-1)"}},"y":{"field":"y","type":"quantitative","scale":{"domain":[-1,0.93],"nice":false,"zero":false},"axis":{"values":[-1,-0.5,0,0.5],"title":"Int."}}}},
 {"mark":{"type":"line","opacity":0},"encoding":{"x":{"field":"x","type":"quantitative","axis":{"orient":"top","values":[500,1000,1500],"labels":false,"labelPadding":0,"title":null}},"y":{"field":"y","type":"quantitative","axis":{"orient":"right","values":[-1,-0.5,0,0.5],"labels":false,"labelPadding":0,"title":null}}}}]},
{"title":{"text":"IC9"},"data":{"name":"ic9"},"width":189,"height":118,"resolve":{"axis":{"x":"independent","y":"independent"}},"layer":[
 {"mark":{"type":"line","color":"#0000ff","strokeWidth":1.1,"clip":true},"encoding":{"x":{"field":"x","type":"quantitative","scale":{"domain":[200,1800],"nice":false,"zero":false},"axis":{"values":[500,1000,1500],"title":"Raman shift (cm-1)"}},"y":{"field":"y","type":"quantitative","scale":{"domain":[-0.19,1],"nice":false,"zero":false},"axis":{"values":[0,0.5,1],"title":"Int."}}}},
 {"mark":{"type":"line","opacity":0},"encoding":{"x":{"field":"x","type":"quantitative","axis":{"orient":"top","values":[500,1000,1500],"labels":false,"labelPadding":0,"title":null}},"y":{"field":"y","type":"quantitative","axis":{"orient":"right","values":[0,0.5,1],"labels":false,"labelPadding":0,"title":null}}}}]}
],
"config": {
 "font": "Liberation Sans",
 "view": {"stroke": "#222222", "strokeWidth": 1.2},
 "axis": {"domain": false, "grid": false, "tickSize": -2.5, "tickColor": "#000000", "tickWidth": 1, "labelColor": "#000000", "titleColor": "#000000", "labelFont": "Liberation Sans", "titleFont": "Liberation Sans", "labelFontSize": 19.5, "titleFontSize": 19.5, "titleFontWeight": "normal", "labelOverlap": false, "labelFlush": false, "labelExpr": "datum.value < 0 ? '-' + format(-datum.value, '~g') : format(datum.value, '~g')"},
 "axisX": {"labelPadding": 10.5, "titlePadding": 5},
 "axisY": {"labelPadding": 9, "titlePadding": 8},
 "title": {"fontSize": 19.5, "fontWeight": "normal", "font": "Liberation Sans", "color": "#000000", "offset": 1, "anchor": "middle", "frame": "group"}
}
}
